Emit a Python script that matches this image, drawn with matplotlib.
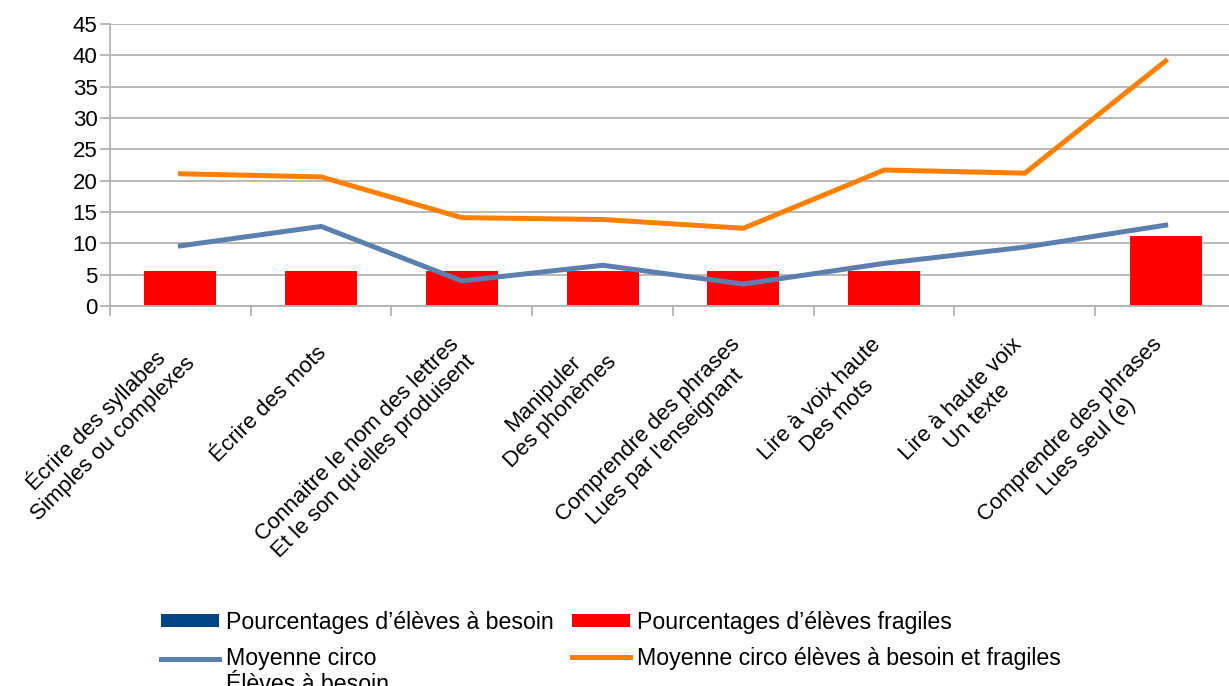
import matplotlib
matplotlib.use("Agg")
import matplotlib.pyplot as plt
from matplotlib.legend_handler import HandlerLine2D
import numpy as np

plt.rcParams['font.family'] = ['Liberation Sans', 'DejaVu Sans']

categories = [
    "Écrire des syllabes\nSimples ou complexes",
    "Écrire des mots",
    "Connaitre le nom des lettres\nEt le son qu'elles produisent",
    "Manipuler\nDes phonèmes",
    "Comprendre des phrases\nLues par l'enseignant",
    "Lire à voix haute\nDes mots",
    "Lire à haute voix\nUn texte",
    "Comprendre des phrases\nLues seul (e)",
]
eleves_besoin = [0, 0, 0, 0, 0, 0, 0, 0]
eleves_fragiles = [5.56, 5.56, 5.56, 5.56, 5.56, 5.56, 0, 11.11]
moyenne_besoin = [9.6, 12.7, 4.0, 6.5, 3.5, 6.8, 9.4, 12.9]
moyenne_total = [21.1, 20.6, 14.1, 13.8, 12.4, 21.7, 21.2, 39.1]


# legend line for a two-line label: put it next to the first line
class TopLine(HandlerLine2D):
    def create_artists(self, legend, orig_handle, xdescent, ydescent,
                       width, height, fontsize, trans):
        arts = super().create_artists(legend, orig_handle, xdescent, ydescent,
                                      width, height, fontsize, trans)
        for a in arts:
            a.set_ydata(np.asarray(a.get_ydata()) + fontsize * 0.6)
        return arts


fig = plt.figure(figsize=(12.29, 6.86), dpi=100)
ax = fig.add_axes([110 / 1229, 1 - 306 / 686, 1126 / 1229, 282 / 686])

x = np.arange(len(categories))
grey = '#b3b3b3'

b1 = ax.bar(x, eleves_besoin, width=0.51, color='#004586', zorder=2)
b2 = ax.bar(x, eleves_fragiles, width=0.51, bottom=eleves_besoin, color='#ff0000', zorder=2)
l1, = ax.plot(x, moyenne_besoin, color='#5b80ae', lw=3.6, zorder=3)
l2, = ax.plot(x, moyenne_total, color='#ff8000', lw=3.6, zorder=3)

ax.set_xlim(-0.5, len(categories) - 0.5)
ax.set_ylim(0, 45)
ax.set_yticks(np.arange(0, 46, 5))
ax.yaxis.grid(True, color=grey, lw=1.3)
ax.set_axisbelow(True)
for s in ['top', 'right']:
    ax.spines[s].set_visible(False)
for s in ['left', 'bottom']:
    ax.spines[s].set_color(grey)
    ax.spines[s].set_linewidth(1.3)
ax.tick_params(axis='y', length=7, color=grey, width=1.3, labelsize=16, pad=2)

ax.set_xticks(x)
ax.set_xticklabels([])
ax.set_xticks(np.arange(-0.5, len(categories), 1), minor=True)
ax.tick_params(axis='x', which='major', length=0)
ax.tick_params(axis='x', which='minor', length=7, color=grey, width=1.3)

for i, lab in enumerate(categories):
    ax.annotate(lab, xy=(x[i], 0), xycoords=('data', 'axes fraction'),
                xytext=(2, -44), textcoords='offset pixels',
                rotation=45, rotation_mode='anchor', ha='right', va='center',
                multialignment='center', fontsize=16)

fig.legend([b1, l1, b2, l2],
           ["Pourcentages d’élèves à besoin", "Moyenne circo\nÉlèves à besoin",
            "Pourcentages d’élèves fragiles", "Moyenne circo élèves à besoin et fragiles"],
           handler_map={l1: TopLine()}, ncol=2,
           loc='upper left', bbox_to_anchor=(161 / 1229, 1 - 611 / 686),
           frameon=False, fontsize=16.7, handlelength=2.5, handleheight=0.5,
           handletextpad=0.3, columnspacing=0.8, labelspacing=0.55,
           borderaxespad=0, borderpad=0)

fig.savefig('out.png', dpi=100)
